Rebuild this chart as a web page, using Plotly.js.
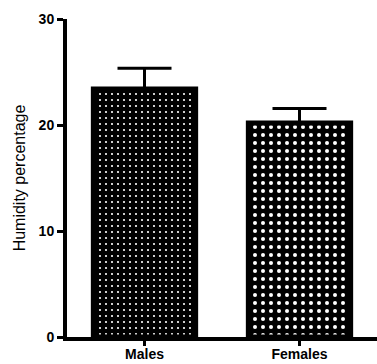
<!DOCTYPE html>
<html>
<head>
<meta charset="utf-8">
<script src="https://cdn.plot.ly/plotly-3.0.1.min.js"></script>
<style>html,body{margin:0;padding:0;background:#fff;}#chart{width:377px;height:364px;}</style>
</head>
<body>
<div id="chart"></div>
<script>
const categories = ["Males", "Females"];
const humidity = [23.4, 20.2];
const errorUp = [1.95, 1.35];
const errorDown = [0, 0];
const yTicks = [0, 10, 20, 30];

const traces = categories.map((c, i) => ({
  type: 'bar',
  x: [c],
  y: [humidity[i]],
  width: 0.66,
  marker: {
    color: 'black',
    line: {color: 'black', width: 5},
    pattern: i === 0
      ? {shape: '.', fgcolor: 'white', bgcolor: 'black', size: 6, solidity: 0.1, fillmode: 'replace'}
      : {shape: '.', fgcolor: 'white', bgcolor: 'black', size: 8, solidity: 0.2, fillmode: 'replace'}
  },
  error_y: {type: 'data', symmetric: false, array: [errorUp[i]], arrayminus: [errorDown[i]],
            color: 'black', thickness: 3, width: 27, visible: true},
  showlegend: false,
  hoverinfo: 'skip'
}));

const layout = {
  width: 377, height: 364,
  margin: {l: 67, r: 0, t: 19, b: 27},
  paper_bgcolor: 'white', plot_bgcolor: 'white',
  font: {family: 'Liberation Sans, Arial, sans-serif', color: 'black'},
  xaxis: {
    type: 'category', range: [-0.5, 1.5],
    showline: true, linewidth: 4, linecolor: 'black',
    ticks: 'outside', ticklen: 5, tickwidth: 3, tickcolor: 'black',
    ticklabelstandoff: -4,
    tickfont: {size: 14, weight: 'bold'},
    showgrid: false, zeroline: false, fixedrange: true
  },
  yaxis: {
    range: [0, 30], tickvals: yTicks, ticktext: yTicks.map(String),
    showline: true, linewidth: 4, linecolor: 'black',
    ticks: 'outside', ticklen: 6, tickwidth: 3, tickcolor: 'black',
    tickfont: {size: 14, weight: 'bold'},
    title: {text: 'Humidity percentage', font: {size: 16}, standoff: 10},
    showgrid: false, zeroline: false, fixedrange: true
  },
  bargap: 0.32
};

Plotly.newPlot('chart', traces, layout, {staticPlot: true, displayModeBar: false});
</script>
</body>
</html>
